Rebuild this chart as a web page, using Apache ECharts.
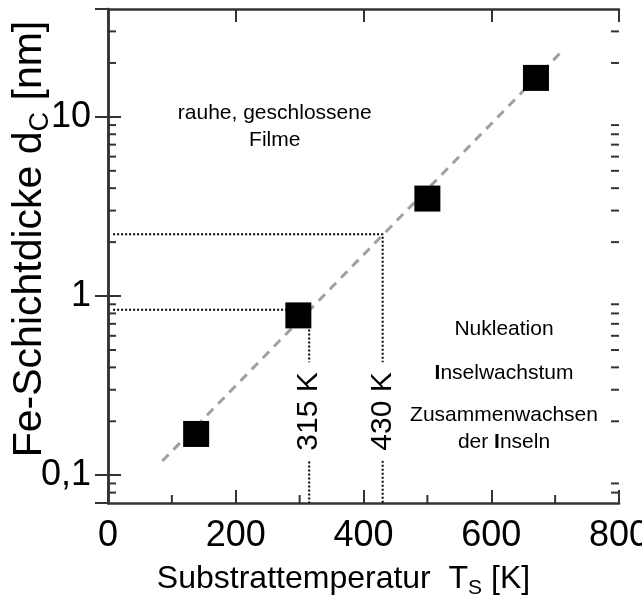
<!DOCTYPE html>
<html><head><meta charset="utf-8">
<script src="https://cdn.jsdelivr.net/npm/echarts@6/dist/echarts.min.js"></script>
<style>html,body{margin:0;padding:0;background:#fff}#c{width:642px;height:603px}</style>
</head><body><div id="c"></div>
<script>
// ---- data ----
const temps = [138, 298, 500, 670];          // Substrattemperatur [K]
const thickness = [0.17, 0.78, 3.5, 16.5];   // Fe-Schichtdicke [nm]
const fitLine = [[85, 0.12], [712, 23.5]];   // dashed fit line
const guideLow = [[8, 0.84], [315, 0.84], [315, 0.07]];
const guideHigh = [[8, 2.21], [430, 2.21], [430, 0.07]];
const guideLabels = ['315 K', '430 K'];
const guideLabelPos = [[315, 0.227], [430, 0.227]];
const yTickValues = [0.1, 1, 10];
const yTickTexts = ['0,1', '1', '10'];
const yMinor = [0.08, 0.09, 0.2, 0.3, 0.4, 0.5, 0.6, 0.7, 0.8, 0.9, 2, 3, 4, 5, 6, 7, 8, 9, 20, 30];
const xMinor = [100, 300, 500, 700];
const notes = [
  {pos: [261, 8.8], text: 'rauhe, geschlossene\nFilme'},
  {pos: [620, 0.656], text: 'Nukleation'},
  {pos: [620, 0.373], text: '{b|I}nselwachstum'},
  {pos: [620, 0.181], text: 'Zusammenwachsen\nder {b|I}nseln'}
];

const FONT = 'Liberation Sans';
const axisLine = {show: true, lineStyle: {color: '#333', width: 2.5}};
const chart = echarts.init(document.getElementById('c'));

function yLabel(v) {
  for (let i = 0; i < yTickValues.length; i++) {
    if (Math.abs(v - yTickValues[i]) / yTickValues[i] < 1e-6) return yTickTexts[i];
  }
  return '';
}
const hidden = {symbol: 'circle', symbolSize: 1, itemStyle: {color: 'rgba(0,0,0,0)', opacity: 1}};

chart.setOption({
  animation: false,
  backgroundColor: '#fff',
  grid: {left: 108, right: 23, top: 9, bottom: 100, containLabel: false, outerBoundsMode: 'none'},
  xAxis: [{
    type: 'value', min: 0, max: 800, interval: 200, position: 'bottom',
    axisLine: axisLine,
    axisTick: {inside: true, length: 13, lineStyle: {color: '#333', width: 2}},
    axisLabel: {fontFamily: FONT, fontSize: 36, color: '#000', margin: 15},
    splitLine: {show: false},
    name: 'Substrattemperatur  T{sub|S} [K]',
    nameLocation: 'middle', nameGap: 56,
    nameTextStyle: {fontFamily: FONT, fontSize: 32, color: '#000', lineHeight: 40, padding: [0, 40, 0, 0],
      rich: {sub: {fontFamily: FONT, fontSize: 21, color: '#000', verticalAlign: 'bottom', lineHeight: 22}}}
  }, {
    type: 'value', min: 0, max: 800, interval: 200, position: 'top',
    axisLine: axisLine,
    axisTick: {inside: true, length: 13, lineStyle: {color: '#333', width: 2}},
    axisLabel: {show: false}, splitLine: {show: false}
  }],
  yAxis: [{
    type: 'log', min: 0.07, max: 40, position: 'left',
    axisLine: axisLine,
    axisTick: {inside: true, length: 13, lineStyle: {color: '#333', width: 2}},
    axisLabel: {fontFamily: FONT, fontSize: 36, color: '#000', margin: 17, formatter: yLabel,
      showMinLabel: false, showMaxLabel: false},
    splitLine: {show: false},
    name: 'Fe-Schichtdicke d{sub|C} [nm]',
    nameLocation: 'middle', nameGap: 54, nameRotate: 90, nameMoveOverlap: false,
    nameTextStyle: {fontFamily: FONT, fontSize: 41, color: '#000', lineHeight: 48, padding: [0, 0, 0, 34],
      rich: {sub: {fontFamily: FONT, fontSize: 27, color: '#000', verticalAlign: 'bottom', lineHeight: 27}}}
  }, {
    type: 'log', min: 0.07, max: 40, position: 'right',
    axisLine: axisLine,
    axisTick: {inside: true, length: 13, lineStyle: {color: '#333', width: 2}},
    axisLabel: {show: false}, splitLine: {show: false}
  }],
  series: [
    {
      type: 'custom', xAxisIndex: 0, yAxisIndex: 0, silent: true, clip: false, z: 1,
      data: yMinor.map(v => [0, v]),
      renderItem: function (params, api) {
        const v = api.value(1);
        const a = api.coord([0, v]);
        const b = api.coord([800, v]);
        const st = {stroke: '#333', lineWidth: 2};
        return {type: 'group', children: [
          {type: 'line', shape: {x1: a[0], y1: a[1], x2: a[0] + 8, y2: a[1]}, style: st},
          {type: 'line', shape: {x1: b[0], y1: b[1], x2: b[0] - 8, y2: b[1]}, style: st}
        ]};
      }
    },
    {
      type: 'custom', xAxisIndex: 0, yAxisIndex: 0, silent: true, clip: false, z: 1,
      data: xMinor.map(v => [v, 0.07]),
      renderItem: function (params, api) {
        const a = api.coord([api.value(0), 0.07]);
        return {type: 'line', shape: {x1: a[0], y1: a[1], x2: a[0], y2: a[1] - 8},
          style: {stroke: '#333', lineWidth: 2}};
      }
    },
    {
      type: 'line', data: fitLine, symbol: 'none', silent: true, z: 2,
      lineStyle: {color: '#a0a0a0', width: 3, type: [9, 7]}
    },
    {
      type: 'line', data: guideLow, symbol: 'none', silent: true, z: 2,
      lineStyle: {color: '#000', width: 2, type: [2, 2]}
    },
    {
      type: 'line', data: guideHigh, symbol: 'none', silent: true, z: 2,
      lineStyle: {color: '#000', width: 2, type: [2, 2]}
    },
    Object.assign({
      type: 'scatter', data: guideLabelPos.map((p, i) => ({value: p, name: guideLabels[i]})),
      silent: true, z: 4,
      label: {show: true, position: 'inside', rotate: 90, formatter: '{b}', opacity: 1,
        fontFamily: FONT, fontSize: 30, color: '#000', backgroundColor: '#fff', padding: [2, 10, 2, 10]}
    }, hidden),
    {
      type: 'scatter', data: temps.map((t, i) => [t, thickness[i]]),
      symbol: 'rect', symbolSize: 26, itemStyle: {color: '#000', opacity: 1}, silent: true, z: 5
    },
    Object.assign({
      type: 'scatter', data: notes.map(n => ({value: n.pos, name: n.text})),
      silent: true, z: 4,
      label: {show: true, position: 'inside', formatter: '{b}', fontFamily: FONT, fontSize: 21, opacity: 1,
        color: '#000', lineHeight: 27, align: 'center',
        rich: {b: {fontFamily: FONT, fontSize: 21, fontWeight: 'bold', color: '#000', lineHeight: 27}}}
    }, hidden)
  ]
});
</script></body></html>
